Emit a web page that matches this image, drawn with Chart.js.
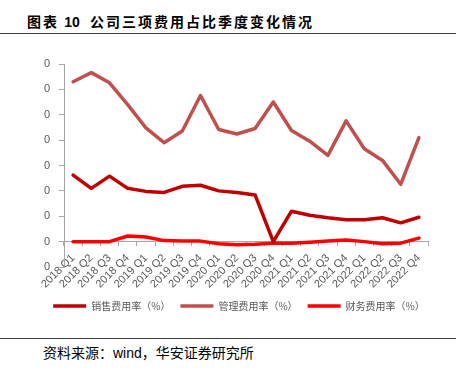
<!DOCTYPE html>
<html>
<head>
<meta charset="utf-8">
<script src="https://cdn.jsdelivr.net/npm/chart.js@4.4.0/dist/chart.umd.min.js"></script>
<style>
  html, body { margin: 0; padding: 0; background: #fff; }
  body { width: 456px; height: 368px; position: relative; overflow: hidden; font-family: "Noto Sans CJK SC", sans-serif; }
  #title { position: absolute; left: 27px; top: 12px; font-size: 14px; font-weight: bold; letter-spacing: 2px; color: #000; white-space: nowrap; line-height: 18px; }
  #title .num { font-family: "Liberation Sans", Arial, sans-serif; letter-spacing: 0; }
  .rule { position: absolute; left: 0; width: 456px; height: 1px; background: #404040; }
  #wrap { position: absolute; left: 0; top: 40px; width: 456px; height: 290px; }
  #source { position: absolute; left: 43px; top: 343px; font-size: 14px; color: #000; white-space: nowrap; line-height: 18px; }
  #source .latin { font-family: "Liberation Sans", Arial, sans-serif; }
</style>
</head>
<body>
<div id="title">图表 <span class="num">10</span>&nbsp;&nbsp;公司三项费用占比季度变化情况</div>
<div class="rule" style="top:33px"></div>
<div id="wrap"><canvas id="chart"></canvas></div>
<div class="rule" style="top:338px"></div>
<div id="source">资料来源：<span class="latin">wind</span>，华安证券研究所</div>

<script>
// quarters on the x axis
var quarters = ['2018 Q1', '2018 Q2', '2018 Q3', '2018 Q4',
                '2019 Q1', '2019 Q2', '2019 Q3', '2019 Q4',
                '2020 Q1', '2020 Q2', '2020 Q3', '2020 Q4',
                '2021 Q1', '2021 Q2', '2021 Q3', '2021 Q4',
                '2022 Q1', '2022 Q2', '2022 Q3', '2022 Q4'];

// 销售费用率 (%)
var salesRate = [13.1, 10.5, 12.9, 10.5, 9.9, 9.7, 10.9, 11.1, 10.0, 9.7,
                 9.2, 0.0, 6.0, 5.2, 4.7, 4.3, 4.3, 4.7, 3.7, 4.8];
// 管理费用率 (%)
var mgmtRate = [31.5, 33.3, 31.3, 27.0, 22.4, 19.5, 21.8, 28.8, 22.1, 21.2,
                22.3, 27.5, 21.9, 19.8, 17.0, 23.8, 18.3, 16.0, 11.3, 20.5];
// 财务费用率 (%)
var finRate = [0.0, 0.0, 0.0, 1.1, 0.9, 0.2, 0.1, 0.1, -0.4, -0.6,
               -0.5, -0.3, -0.3, -0.1, 0.1, 0.3, 0.0, -0.4, -0.3, 0.7];

var seriesNames = ['销售费用率（%）', '管理费用率（%）', '财务费用率（%）'];

// the y tick labels as they appear (clipped) in the source picture
var yTickLabels = ['0', '0', '0', '0', '0', '0', '0', '0', '0'];

var axisGray = '#A6A6A6';
var textGray = '#595959';

function lineSet(label, data, color) {
    return {
        label: label,
        data: data,
        borderColor: color,
        backgroundColor: color,
        borderWidth: 3.5,
        borderCapStyle: 'round',
        borderJoinStyle: 'round',
        pointRadius: 0,
        pointHoverRadius: 0,
        tension: 0,
        fill: false
    };
}

var ctx = document.getElementById('chart');
new Chart(ctx.getContext('2d'), {
    type: 'line',
    data: {
        labels: quarters,
        datasets: [
            lineSet(seriesNames[0], salesRate, '#C00000'),
            lineSet(seriesNames[1], mgmtRate, '#C0504D'),
            lineSet(seriesNames[2], finRate, '#FF0000')
        ]
    },
    options: {
        responsive: true,
        maintainAspectRatio: false,
        animation: false,
        layout: { padding: { left: 22, right: 0, top: 24, bottom: 9 } },
        plugins: {
            tooltip: { enabled: false },
            legend: {
                position: 'bottom',
                title: { display: true, text: '', padding: 6, font: { size: 10 } },
                labels: {
                    usePointStyle: true,
                    pointStyle: 'line',
                    pointStyleWidth: 33,
                    boxHeight: 10,
                    padding: 10,
                    color: textGray,
                    font: { family: '"Noto Sans CJK SC", sans-serif', size: 10 }
                }
            }
        },
        scales: {
            x: {
                type: 'category',
                position: { y: 0 },
                offset: true,
                grid: { display: true, drawOnChartArea: false, drawTicks: true, tickLength: 4, color: axisGray, offset: true },
                border: { display: true, color: axisGray, width: 1 },
                ticks: {
                    autoSkip: false,
                    minRotation: 45,
                    maxRotation: 45,
                    padding: 6,
                    color: textGray,
                    font: { family: '"Liberation Sans", Arial, sans-serif', size: 11 }
                }
            },
            y: {
                min: -5,
                max: 35,
                afterFit: function (scale) { scale.width = 42; },
                grid: { drawOnChartArea: false, tickLength: 5, color: axisGray },
                border: { display: true, color: axisGray, width: 1 },
                ticks: {
                    stepSize: 5,
                    padding: 9,
                    color: textGray,
                    font: { family: '"Liberation Sans", Arial, sans-serif', size: 11 },
                    callback: function (value, index) { return yTickLabels[index]; }
                }
            },
            // empty right-hand axis, only keeps room at the right of the plot
            yRight: {
                position: 'right',
                min: -5,
                max: 35,
                afterFit: function (scale) { scale.width = 28; },
                grid: { display: false },
                border: { display: false },
                ticks: { display: false }
            }
        }
    }
});
</script>
</body>
</html>
